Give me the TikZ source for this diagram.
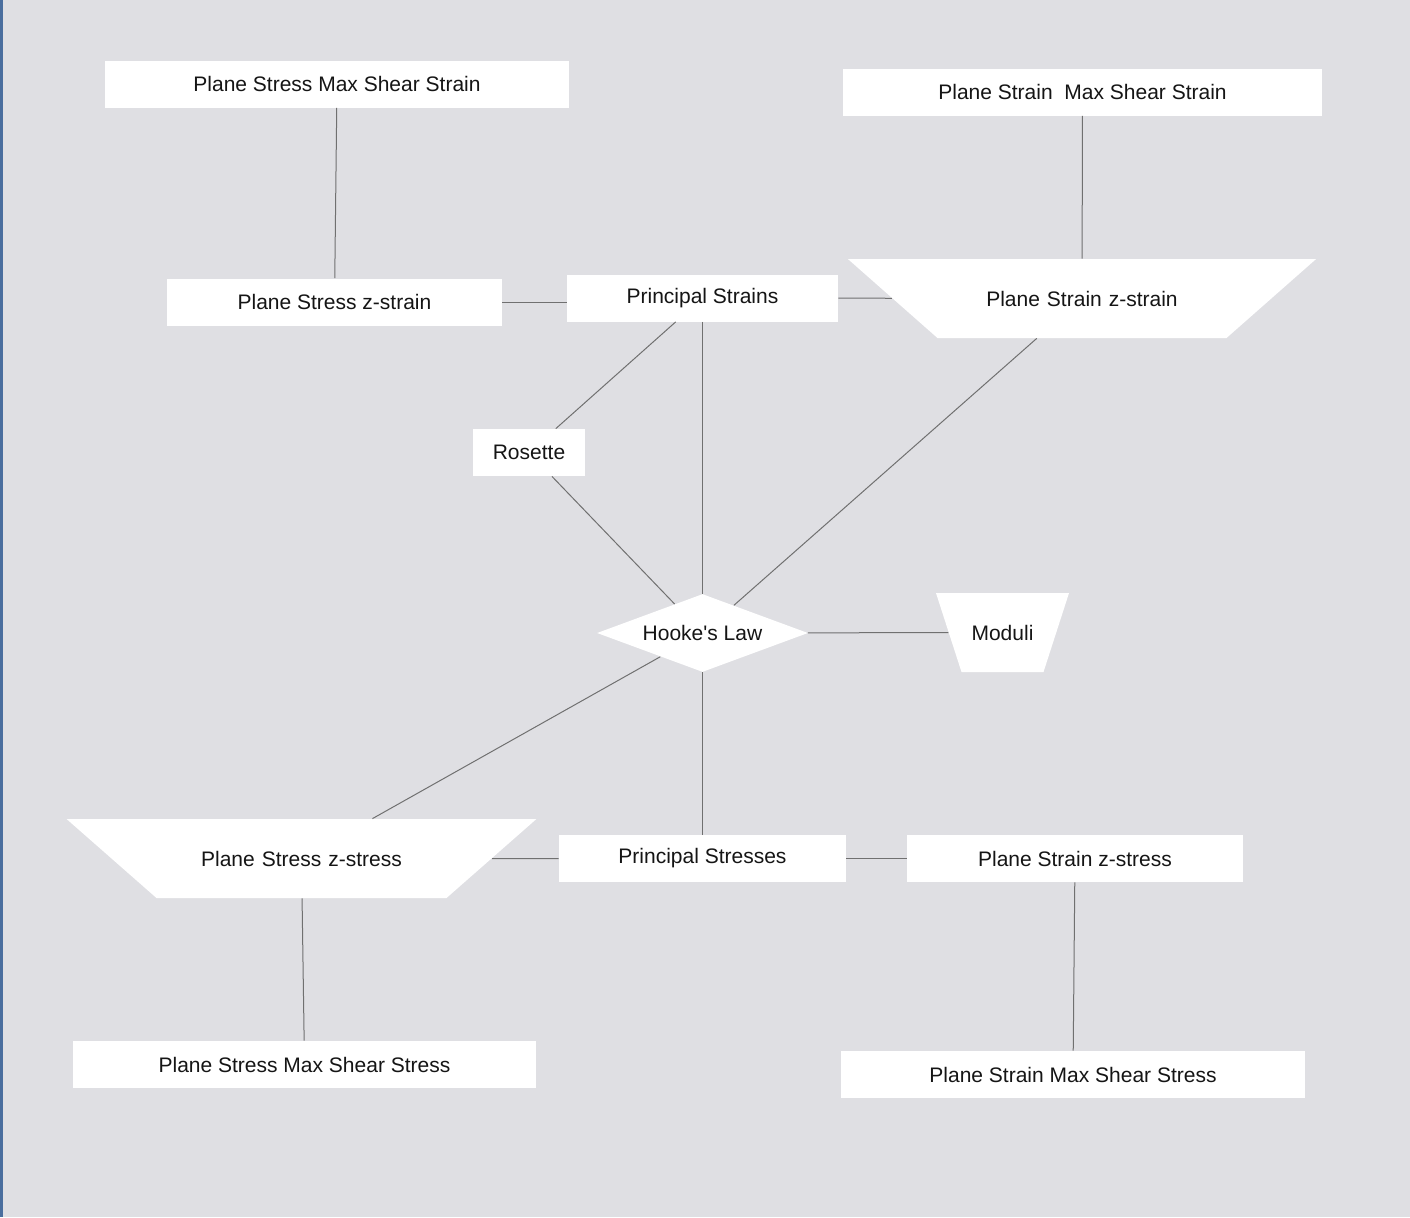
\documentclass[tikz,border=0pt]{standalone}
\usepackage{fontspec}
\setmainfont{Liberation Sans}
\usetikzlibrary{shapes.geometric}
\definecolor{bgc}{HTML}{DFDFE3}
\definecolor{stripc}{HTML}{4A6E9E}
\definecolor{linec}{HTML}{707070}
\definecolor{txtc}{HTML}{151515}
\begin{document}
\begin{tikzpicture}[x=0.5pt,y=-0.5pt,
  base/.style={fill=white, inner sep=0pt, text=txtc, font=\fontsize{10.5}{12}\selectfont},
  box/.style={base, rectangle, minimum height=23.5pt},
  trap/.style={base, trapezium, shape border rotate=180, align=center, text height=23.5pt, text depth=16pt},
  link/.style={draw=linec, line width=0.5pt}]
\useasboundingbox (0,0) rectangle (1410,1217);
\fill[bgc] (0,0) rectangle (1410,1217);
\fill[stripc] (0,0) rectangle (3,1217);

\node[box, minimum width=232pt] (psmss) at (337,84) {Plane Stress Max Shear Strain};
\node[box, minimum width=239.5pt] (pnmss) at (1082.5,92) {Plane Strain\ \ Max Shear Strain};
\node[box, minimum width=167.5pt] (psz) at (334.5,302) {Plane Stress z-strain};
\node[box, minimum width=135.5pt] (prs) at (702.5,298) {Principal Strains};
\node[trap, text width=144.5pt, trapezium angle=41.4] (pnz) at (1082,298.5) {Plane Strain z-strain};
\node[box, minimum width=56pt] (ros) at (529,452.5) {Rosette};
\node[base, diamond, minimum width=105.5pt, minimum height=39pt, aspect=2.7] (hooke) at (702.5,633) {Hooke\textquotesingle s Law};
\node[trap, text width=41pt, trapezium angle=72.1] (mod) at (1002.5,632.5) {Moduli};
\node[trap, text width=145pt, trapezium angle=41.3] (pszs) at (301.5,858.5) {Plane Stress z-stress};
\node[box, minimum width=143.5pt] (prss) at (702.5,858.5) {Principal Stresses};
\node[box, minimum width=168pt] (pnzs) at (1075,858.5) {Plane Strain z-stress};
\node[box, minimum width=231.5pt] (psmsst) at (304.5,1064.5) {Plane Stress Max Shear Stress};
\node[box, minimum width=232pt] (pnmsst) at (1073,1074.5) {Plane Strain Max Shear Stress};

\draw[link] (psmss) -- (psz);
\draw[link] (pnmss) -- (pnz);
\draw[link] (psz.east) -- (prs.west |- psz.east);
\draw[link] (prs) -- (pnz);
\draw[link] (prs) -- (ros);
\draw[link] (prs) -- (hooke);
\draw[link] (pnz) -- (hooke);
\draw[link] (ros) -- (hooke);
\draw[link] (hooke) -- (mod);
\draw[link] (hooke) -- (pszs);
\draw[link] (hooke) -- (prss);
\draw[link] (pszs) -- (prss);
\draw[link] (prss) -- (pnzs);
\draw[link] (pszs) -- (psmsst);
\draw[link] (pnzs) -- (pnmsst);
\end{tikzpicture}
\end{document}
